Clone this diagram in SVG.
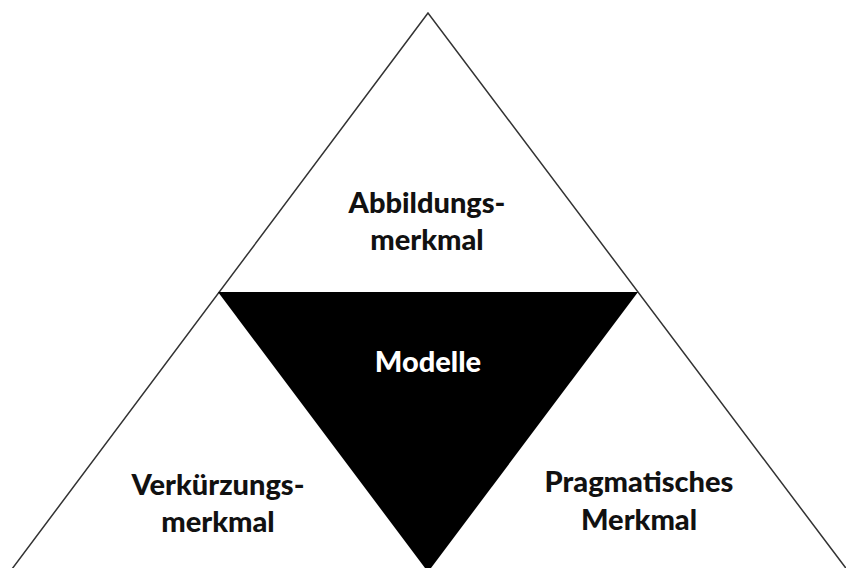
<svg xmlns="http://www.w3.org/2000/svg" width="846" height="568" viewBox="0 0 846 568">
<style>
.t{font-family:Lato,"Open Sans","Liberation Sans",sans-serif;font-weight:900;font-size:29px;text-anchor:middle;fill:#111}
.w{fill:#fff}
</style>
<rect width="846" height="568" fill="#fff"/>
<g id="outer">
<polygon points="428,13 10.5,571 848,571" fill="#fff" stroke="#333" stroke-width="1.5"/>
</g>
<g id="connectors"/>
<g id="center">
<polygon points="218,292 638,292 428,572" fill="#000"/>
<text class="t w" x="428" y="372">Modelle</text>
</g>
<g id="top">
<text class="t" x="427" y="213">Abbildungs-</text>
<text class="t" x="427" y="250">merkmal</text>
</g>
<g id="left">
<text class="t" x="218" y="495">Verkürzungs-</text>
<text class="t" x="218" y="532">merkmal</text>
</g>
<g id="right">
<text class="t" x="639" y="492">Pragmatisches</text>
<text class="t" x="639" y="530">Merkmal</text>
</g>
</svg>
